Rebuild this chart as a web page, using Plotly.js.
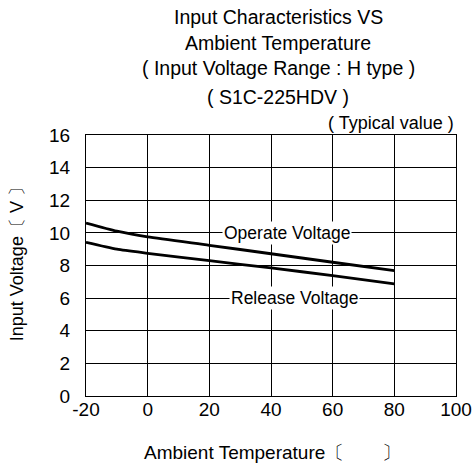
<!DOCTYPE html>
<html><head><meta charset="utf-8">
<script src="https://cdn.plot.ly/plotly-3.0.1.min.js"></script>
<style>body{margin:0;padding:0;background:#fff}#chart{width:475px;height:463px}</style>
</head><body><div id="chart"></div>
<script>
const temps = [-20, -10, 0, 20, 40, 60, 80];
const operateVoltage = [10.6, 10.1, 9.75, 9.24, 8.72, 8.2, 7.68];
const releaseVoltage = [9.42, 9.0, 8.75, 8.3, 7.85, 7.38, 6.88];
const xTicks = [-20, 0, 20, 40, 60, 80, 100];
const yTicks = [0, 2, 4, 6, 8, 10, 12, 14, 16];
const titleLines = ['Input Characteristics VS', 'Ambient Temperature', '( Input Voltage Range : H type )', '( S1C-225HDV )'];

const font = 'Liberation Sans, Arial, sans-serif';
const lineStyle = {color: '#000', width: 2.8, shape: 'spline', smoothing: 0.6};
const traces = [
  {x: temps, y: operateVoltage, mode: 'lines', line: lineStyle, name: 'Operate Voltage', hoverinfo: 'skip'},
  {x: temps, y: releaseVoltage, mode: 'lines', line: lineStyle, name: 'Release Voltage', hoverinfo: 'skip'}
];
const titleY = [1.452, 1.352, 1.257, 1.146];
const annotations = titleLines.map((t, i) => ({
  text: t, xref: 'paper', yref: 'paper', x: 0.519, y: titleY[i],
  xanchor: 'center', yanchor: 'middle', showarrow: false, font: {size: 19.5}
}));
annotations.push(
  {text: '( Typical value )', xref: 'paper', yref: 'paper', x: 1.0, y: 1.046, xanchor: 'right', yanchor: 'middle', showarrow: false, font: {size: 18}},
  {text: 'Ambient Temperature〔　　〕', xref: 'paper', yref: 'paper', x: 0.503, y: -0.215, xanchor: 'center', yanchor: 'middle', showarrow: false, font: {size: 19}},
  {text: 'Input Voltage〔 V 〕', xref: 'paper', yref: 'paper', x: -0.186, y: 0.521, xanchor: 'center', yanchor: 'middle', textangle: -90, showarrow: false, font: {size: 18}},
  {text: 'Operate Voltage', x: 45.2, y: 10, xref: 'x', yref: 'y', showarrow: false, bgcolor: '#fff', borderpad: 1, font: {size: 17.5}},
  {text: 'Release Voltage', x: 47.5, y: 6, xref: 'x', yref: 'y', showarrow: false, bgcolor: '#fff', borderpad: 1, font: {size: 17.5}}
);
const layout = {
  width: 475, height: 463,
  margin: {l: 86, r: 19, t: 135, b: 67},
  paper_bgcolor: '#fff', plot_bgcolor: '#fff',
  showlegend: false,
  font: {family: font, color: '#000', size: 19},
  xaxis: {
    range: [-20, 100], tickvals: xTicks, ticktext: xTicks.map(String),
    showgrid: true, gridcolor: '#000', gridwidth: 1,
    showline: true, linecolor: '#000', linewidth: 1, mirror: true,
    zeroline: false, ticks: '', tickfont: {size: 19}, ticklabelstandoff: -4
  },
  yaxis: {
    range: [0, 16], tickvals: yTicks, ticktext: yTicks.map(String),
    showgrid: true, gridcolor: '#000', gridwidth: 1,
    showline: true, linecolor: '#000', linewidth: 1, mirror: true,
    zeroline: false, ticks: '', tickfont: {size: 19}, ticklabelstandoff: 11
  },
  annotations: annotations
};
Plotly.newPlot('chart', traces, layout, {staticPlot: true, displayModeBar: false});
</script></body></html>
